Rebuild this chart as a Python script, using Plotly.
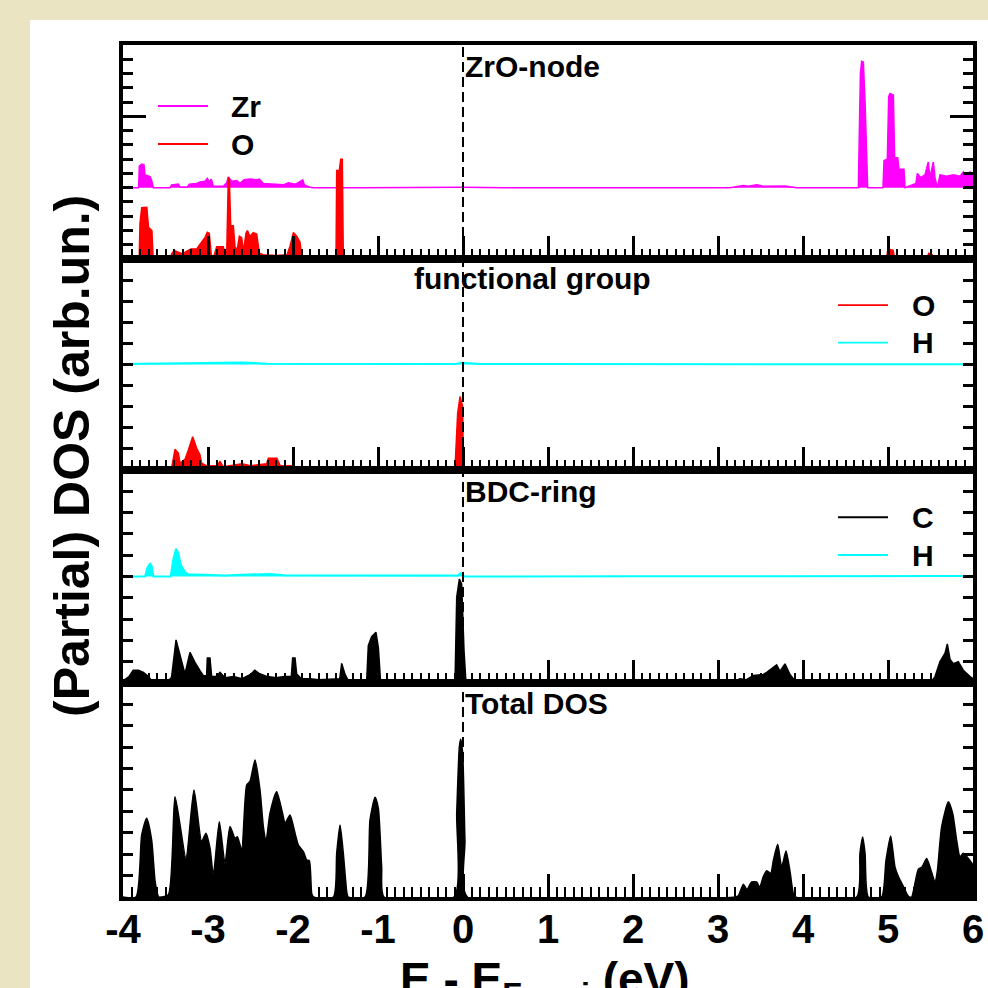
import plotly.graph_objects as go

# ---------------- data ----------------
E_RANGE = [-4, 6]
X_TICKS = [-4, -3, -2, -1, 0, 1, 2, 3, 4, 5, 6]
FERMI = 0.0
OFFSET = 5  # vertical offset of the upper curve in each partial panel

# Panel 1: ZrO-node
E_ZR = [-4.0, -3.816, -3.808, -3.780, -3.753, -3.741, -3.682, -3.663, -3.643,
        -3.447, -3.428, -3.349, -3.329, -3.243, -3.220, -3.133, -3.094, -3.035, -3.008, -2.985,
        -2.961, -2.937, -2.820, -2.780, -2.761, -2.721, -2.663, -2.624, -2.576, -2.506,
        -2.427, -2.396, -2.349, -2.231, -2.114, -2.055, -1.976, -1.937, -1.886, -1.867,
        -1.808, -1.761,
        -1.3, -1.2, 0.0, 0.5, 3.141, 3.259, 3.298, 3.357, 3.455, 3.533, 3.612, 3.710, 3.788, 3.867, 3.926,
        4.651, 4.663, 4.675, 4.690, 4.710, 4.730, 4.749, 4.761,
        4.941, 4.953, 4.992, 5.008, 5.024, 5.063, 5.078, 5.114, 5.129, 5.188, 5.200,
        5.278, 5.329, 5.345, 5.384, 5.435, 5.474, 5.494, 5.533, 5.553, 5.580,
        5.612, 5.690, 5.769, 5.847, 5.886, 5.925, 5.965, 6.0]
ZR = [0, 0, 1.52, 1.66, 1.6, 0.89, 0.77, 0.5, 0,
      0, 0.2, 0.25, 0.05, 0.05, 0.25, 0.3, 0.4, 0.45, 0.65, 0.4,
      0.6, 0.1, 0.1, 0.35, 0.75, 0.45, 0.5, 0.3, 0.55, 0.6,
      0.55, 0.6, 0.3, 0.25, 0.2, 0.35, 0.25, 0.35, 0.55, 0.2,
      0.05, 0,
      0.03, 0, 0.03, 0, 0, 0.1, 0.15, 0.1, 0.2, 0.1, 0.12, 0.15, 0.12, 0.05, 0,
      0, 4.0, 8.0, 8.85, 8.8, 6.0, 1.5, 0,
      0, 1.9, 2.0, 6.4, 6.6, 6.5, 2.1, 2.1, 1.3, 1.3, 0,
      0.2, 0.3, 1.0, 0.7, 0.9, 1.8, 0.7, 1.8, 0.7, 0,
      0.9, 0.8, 0.9, 0.8, 1.1, 0.8, 1.1, 1.0]

E_O_NODE = [-4.0, -3.81, -3.80, -3.78, -3.72, -3.70, -3.66, -3.645,
            -3.45, -3.428, -3.40, -3.35, -3.30, -3.25, -3.20, -3.133, -3.094, -3.035,
            -3.008, -2.985, -2.957, -2.94, -2.898, -2.82, -2.80, -2.78, -2.761, -2.749,
            -2.733, -2.702, -2.682, -2.655, -2.631, -2.604, -2.584, -2.553, -2.537, -2.506,
            -2.467, -2.427, -2.396, -2.35, -2.20, -2.07, -2.035, -1.996, -1.957, -1.918,
            -1.898, -1.839,
            -1.494, -1.486, -1.455, -1.439, -1.420, -1.408,
            4.98, 5.0, 5.06, 5.08, 5.45, 5.48, 5.52, 5.55, 6.0]
O_NODE = [0, 0, 2.5, 3.6, 3.62, 2.22, 2.0, 0,
          0, 0.35, 0.6, 0.45, 0.35, 0.55, 0.7, 0.7, 1.0, 1.52,
          1.87, 1.8, 0, 0, 0.86, 0.86, 0.3, 0.3, 5.72, 5.6,
          2.34, 2.34, 0.82, 0.7, 1.6, 1.5, 0.5, 1.8, 2.0, 1.6,
          1.85, 1.75, 0.4, 0.3, 0.25, 0.3, 0.9, 1.85, 1.6, 1.2,
          0.2, 0,
          0, 6.2, 6.2, 7.0, 7.0, 0,
          0, 0.7, 0.6, 0, 0, 0.4, 0.3, 0, 0]

# Panel 2: functional group
E_O_FG = [-4.0, -3.95, -3.85, -3.78, -3.70, -3.64, -3.45, -3.428, -3.388, -3.349,
          -3.329, -3.271, -3.231, -3.180, -3.133, -3.094, -3.075, -3.02, -2.9, -2.859,
          -2.82, -2.7, -2.6, -2.5, -2.4, -2.31, -2.29, -2.19, -2.15, -2.0,
          -1.918, -1.85, -0.095, -0.082, -0.063, -0.035, -0.004, 0.004, 5.6, 5.65,
          5.95, 6.0]
O_FG = [0.05, 0.15, 0.1, 0.15, 0.1, 0.02, 0.02, 0.1, 0.98, 0.8,
        0.32, 0.5, 0.95, 1.58, 1.03, 0.71, 0.32, 0.2, 0.2, 0.4,
        0.15, 0.25, 0.3, 0.2, 0.25, 0.3, 0.55, 0.55, 0.2, 0.2,
        0.05, 0, 0, 0.95, 2.69, 3.48, 3.0, 0, 0, 0.15,
        0.15, 0.1]
E_H_FG = [-4.0, -3.6, -3.3, -3.0, -2.6, -2.3, -1.8, -1.0, -0.1, 0.0, 0.2, 1.0, 2.0, 3.0, 4.0, 5.0, 6.0]
H_FG = [0.02, 0.04, 0.03, 0.05, 0.1, 0.04, 0.03, 0.02, 0.02, 0.08, 0.02, 0.02, 0.01, 0.01, 0.01, 0.01, 0.01]

# Panel 3: BDC-ring
E_H_BDC = [-4.0, -3.741, -3.714, -3.682, -3.663, -3.643, -3.439, -3.408, -3.376, -3.349,
           -3.321, -3.271, -3.231, -3.0, -2.8, -2.6, -2.271, -2.1, -1.9, -1.5,
           -1.0, -0.06, -0.03, 0.02, 2.0, 3.5, 5.6, 5.7, 6.0]
H_BDC = [0, 0, 0.4, 0.6, 0.5, 0, 0, 0.8, 1.3, 1.1,
         0.55, 0.2, 0.1, 0.08, 0.05, 0.08, 0.12, 0.06, 0.06, 0.03,
         0.03, 0.05, 0.15, 0, 0.01, 0.02, 0.05, 0.02, 0.02]
E_C_BDC = [-4.0, -3.93, -3.88, -3.82, -3.76, -3.70, -3.66, -3.5, -3.44, -3.428,
           -3.376, -3.329, -3.271, -3.212, -3.153, -3.094, -3.055, -3.016, -3.008, -2.977,
           -2.957, -2.9, -2.859, -2.8, -2.7, -2.6, -2.5, -2.45, -2.4, -2.3,
           -2.2, -2.1, -2.02, -2.004, -1.976, -1.957, -1.9, -1.8, -1.7, -1.45,
           -1.427, -1.388, -1.349, -1.3, -1.133, -1.114, -1.075, -1.024, -0.996, -0.969,
           -0.094, -0.074, -0.043, -0.016, 0.012, 0.035, 3.15, 3.259, 3.33, 3.416,
           3.533, 3.573, 3.690, 3.73, 3.788, 3.847, 3.906, 3.945, 5.5, 5.553,
           5.612, 5.671, 5.698, 5.73, 5.769, 5.827, 5.886, 5.965, 6.0]
C_BDC = [0.1, 0.3, 0.6, 0.6, 0.5, 0.3, 0.1, 0.05, 0.2, 0.3,
         2.02, 1.36, 0.42, 1.44, 0.97, 0.58, 0.34, 0.34, 1.17, 1.17,
         0.3, 0.3, 0.5, 0.25, 0.3, 0.2, 0.4, 0.6, 0.45, 0.3,
         0.25, 0.3, 0.3, 1.17, 1.17, 0.42, 0.2, 0.2, 0.15, 0.2,
         0.92, 0.4, 0.1, 0.05, 0.1, 1.75, 2.18, 2.38, 1.67, 0,
         0, 4.02, 4.88, 4.65, 1.52, 0, 0, 0.2, 0.15, 0.35,
         0.4, 0.5, 0.85, 0.55, 0.9, 0.4, 0.1, 0, 0, 0.3,
         1.0, 1.4, 1.83, 1.1, 0.9, 1.0, 0.6, 0.3, 0.2]

# Panel 4: Total DOS
E_TOT = [-4.0, -3.847, -3.78, -3.722, -3.663, -3.624, -3.596, -3.58, -3.467, -3.388,
         -3.259, -3.165, -3.075, -3.024, -2.977, -2.937, -2.867, -2.80, -2.741, -2.682,
         -2.655, -2.604, -2.545, -2.506, -2.447, -2.388, -2.349, -2.318, -2.271, -2.192,
         -2.114, -2.094, -2.035, -1.976, -1.937, -1.878, -1.839, -1.808, -1.78, -1.76,
         -1.525, -1.486, -1.447, -1.408, -1.365, -1.349, -1.153, -1.094, -1.035, -0.996,
         -0.957, -0.929, -0.106, -0.074, -0.043, -0.027, -0.004, 0.023, 0.051, 3.2,
         3.239, 3.298, 3.34, 3.396, 3.455, 3.49, 3.533, 3.573, 3.62, 3.651,
         3.702, 3.749, 3.80, 3.847, 3.886, 3.91, 4.631, 4.67, 4.702, 4.73,
         4.769, 4.925, 4.976, 5.031, 5.082, 5.122, 5.18, 5.228, 5.25, 5.278,
         5.357, 5.40, 5.455, 5.502, 5.553, 5.58, 5.631, 5.71, 5.761, 5.808,
         5.847, 5.886, 5.965, 6.0]
TOT = [0, 0, 2.9, 3.68, 2.66, 0.79, 0.17, 0, 0.1, 4.69,
       1.81, 5.0, 2.59, 2.98, 2.3, 1.03, 3.52, 1.57, 3.29, 2.74,
       2.82, 2.2, 5.23, 5.4, 6.4, 5.0, 3.29, 2.59, 3.91, 4.92,
       3.75, 3.44, 3.83, 2.98, 2.43, 2.12, 1.73, 1.7, 0.17, 0,
       0, 2.04, 3.36, 2.04, 0.17, 0, 0, 3.6, 4.66, 4.14,
       1.42, 0, 0, 3.9, 7.02, 7.37, 6.71, 2.65, 0, 0,
       0.05, 0.6, 0.35, 0.7, 0.7, 0.45, 0.95, 1.23, 1.1, 1.7,
       2.46, 1.4, 2.15, 1.2, 0.15, 0, 0, 2.04, 2.8, 2.04,
       0, 0, 1.7, 2.85, 1.4, 0.95, 0.5, 0.1, 0, 0,
       1.3, 1.4, 1.8, 1.3, 0.7, 1.2, 3.28, 4.45, 3.9, 2.65,
       1.88, 2.04, 1.7, 1.5]

PANEL_TITLES = ["ZrO-node", "functional group", "BDC-ring", "Total DOS"]
Y_RANGES = [[0, 15], [0, 10], [0, 10], [0, 10]]
DOMAINS = [[0.7488, 1.0], [0.5012, 0.7488], [0.2512, 0.5012], [0.0, 0.2512]]

MAGENTA, RED, CYAN, BLACK = "#ff00ff", "#ff0000", "#00ffff", "#000000"
BEIGE = "#ebe4c2"
REG = "Liberation Sans, Arial, Helvetica, sans-serif"

fig = go.Figure()


def add(x, y, color, ax, fill=None, off=0, shape="linear", width=1.5):
    fig.add_trace(go.Scatter(
        x=x, y=[v + off for v in y], mode="lines",
        line=dict(color=color, width=width, shape=shape, smoothing=0.6 if shape == "spline" else None),
        fill=fill, fillcolor=color, xaxis="x" + ax, yaxis="y" + ax,
        showlegend=False, hoverinfo="skip"))


def add_base(ax):
    fig.add_trace(go.Scatter(x=E_RANGE, y=[OFFSET, OFFSET], mode="lines",
                             line=dict(width=0, color="rgba(0,0,0,0)"),
                             xaxis="x" + ax, yaxis="y" + ax, showlegend=False, hoverinfo="skip"))


# panel 1
add_base("")
add(E_ZR, ZR, MAGENTA, "", fill="tonexty", off=OFFSET)
add(E_O_NODE, O_NODE, RED, "", fill="tozeroy")
# panel 2
add_base("2")
add(E_H_FG, H_FG, CYAN, "2", fill="tonexty", off=OFFSET, width=2)
add(E_O_FG, O_FG, RED, "2", fill="tozeroy")
# panel 3
add_base("3")
add(E_H_BDC, H_BDC, CYAN, "3", fill="tonexty", off=OFFSET, width=2)
add(E_C_BDC, C_BDC, BLACK, "3", fill="tozeroy")
# panel 4
add(E_TOT, TOT, BLACK, "4", fill="tozeroy", shape="spline")

layout = dict(
    width=988, height=988, autosize=False,
    margin=dict(l=123, r=15, t=45, b=91, autoexpand=False),
    paper_bgcolor=BEIGE, plot_bgcolor="white",
    showlegend=False,
)

names = ["", "2", "3", "4"]
for i, n in enumerate(names):
    layout["xaxis" + n] = dict(
        range=E_RANGE, anchor="y" + n, domain=[0, 1], automargin=False,
        tickmode="array", tickvals=X_TICKS, ticktext=[str(t) for t in X_TICKS],
        ticks="inside", ticklen=23, tickwidth=2.5, tickcolor="black",
        minor=dict(ticks="inside", dtick=0.1, tick0=0, ticklen=10, tickwidth=2.2, tickcolor="black", showgrid=False),
        showline=True, linecolor="black", linewidth=3.5, mirror=True,
        showgrid=False, zeroline=False,
        showticklabels=(n == "4"), ticklabelstandoff=-6,
        tickfont=dict(family=REG, size=40, color="black", weight="bold"),
    )
    layout["yaxis" + n] = dict(
        range=Y_RANGES[i], domain=DOMAINS[i], anchor="x" + n, automargin=False,
        tickmode="linear", tick0=0, dtick=10,
        ticks="inside", ticklen=23, tickwidth=2.5, tickcolor="black",
        minor=dict(ticks="inside", dtick=1, tick0=0, ticklen=10, tickwidth=2.5, tickcolor="black", showgrid=False),
        showline=True, linecolor="black", linewidth=3.5, mirror="ticks",
        showgrid=False, zeroline=False, showticklabels=False,
    )

fig.update_layout(**layout)

# white card behind the plot
fig.add_shape(type="rect", xref="paper", yref="paper", x0=-0.1094, x1=1.03, y0=-0.12, y1=1.0293,
              fillcolor="white", line=dict(width=0), layer="below")

# Fermi level dashed line
fig.add_shape(type="line", xref="x4", yref="paper", x0=FERMI, x1=FERMI, y0=0, y1=1,
              line=dict(color="black", width=2, dash="10px,5px"), layer="above")

# panel titles
title_pos = [(0.4000, 0.9744), (0.3400, 0.726), (0.4000, 0.4754), (0.4000, 0.2273)]
for t, (x, y) in zip(PANEL_TITLES, title_pos):
    fig.add_annotation(text="<b>%s</b>" % t, x=x, y=y, xref="paper", yref="paper",
                       xanchor="left", yanchor="middle", showarrow=False,
                       font=dict(family=REG, size=30, color="black"))

# legends (line sample + label)
legends = [
    [("Zr", MAGENTA, 0.9284), ("O", RED, 0.8838)],
    [("O", RED, 0.6948), ("H", CYAN, 0.6506)],
    [("C", BLACK, 0.4457), ("H", CYAN, 0.4014)],
]
leg_x = [(0.0412, 0.100, 0.1250), (0.8412, 0.900, 0.9260), (0.8412, 0.900, 0.9260)]
for (x0, x1, xt), entries in zip(leg_x, legends):
    for label, col, y in entries:
        fig.add_shape(type="line", xref="paper", yref="paper", x0=x0, x1=x1, y0=y, y1=y,
                      line=dict(color=col, width=1.8))
        fig.add_annotation(text="<b>%s</b>" % label, x=xt, y=y, xref="paper", yref="paper",
                           xanchor="left", yanchor="middle", showarrow=False,
                           font=dict(family=REG, size=30, color="black"))

# axis titles
fig.add_annotation(text="<b>(Partial) DOS (arb.un.)</b>", x=-0.06, y=0.5176, xref="paper", yref="paper",
                   textangle=-90, showarrow=False, xanchor="center", yanchor="middle",
                   font=dict(family=REG, size=50, color="black"))
fig.add_annotation(text="<b>E - E<sub>Fermi</sub> (eV)</b>", x=0.4965, y=-0.063, xref="paper", yref="paper",
                   showarrow=False, xanchor="center", yanchor="top",
                   font=dict(family=REG, size=46, color="black"))

fig.write_html("out.html", config={"displayModeBar": False},
               post_script="document.body.style.margin='0';document.body.style.overflow='hidden';")
